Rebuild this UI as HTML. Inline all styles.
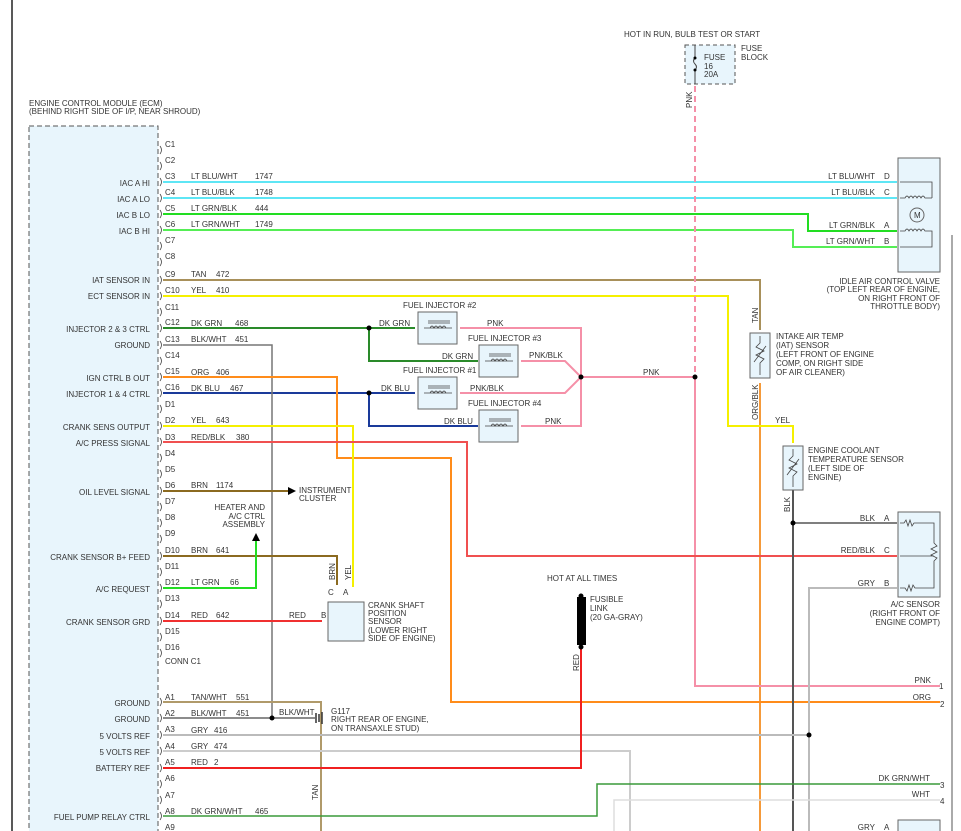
<!DOCTYPE html>
<html><head><meta charset="utf-8"><style>
body{margin:0;background:#fff}
svg{display:block}
text{font-family:"Liberation Sans",sans-serif;font-size:8px;fill:#333}
</style></head><body>
<svg width="961" height="831" viewBox="0 0 961 831" xmlns="http://www.w3.org/2000/svg">
<line x1="12" y1="0" x2="12" y2="831" stroke="#222" stroke-width="1.5"/>
<line x1="952" y1="235" x2="952" y2="831" stroke="#555" stroke-width="1"/>
<text x="29" y="106">ENGINE CONTROL MODULE (ECM)</text>
<text x="29" y="114">(BEHIND RIGHT SIDE OF I/P, NEAR SHROUD)</text>
<rect x="29" y="126" width="129" height="710" fill="#e8f5fc" stroke="#555" stroke-dasharray="5,3"/>
<g fill="none" stroke-width="2">
<!-- IAC -->
<path d="M163 182H897M163 198H897" stroke="#5ee6f5"/>
<path d="M163 214H808V231H897" stroke="#22dd22"/>
<path d="M163 230H793V247H897" stroke="#55ee55"/>
<path d="M163 280H760V330" stroke="#a8905a"/>
<path d="M760 383V831" stroke="#f59a3a"/>
<path d="M163 296H728V426H793V443" stroke="#f5f000"/>
<path d="M163 328H415M369 328V361H478" stroke="#2a8a2a"/>
<path d="M163 393H415M369 393V426H478" stroke="#1a3a9a"/>
<path d="M460 328H581V426H521M521 361H565L581 377M460 393H565L581 377M581 377H695" stroke="#f590a8"/>
<path d="M695 86V377" stroke="#f590a8" stroke-dasharray="6,4"/>
<path d="M695 377V686H940" stroke="#f590a8"/>
<path d="M163 345H272V718" stroke="#777" stroke-width="1.5"/>
<path d="M163 377H337V458H451V702H940" stroke="#ff8c1a"/>
<path d="M163 426H353V587" stroke="#f5f000"/>
<path d="M163 442H467V556H897" stroke="#f05050"/>
<path d="M163 491H288" stroke="#8b6a20"/>
<path d="M163 556H337V585" stroke="#8b6a20"/>
<path d="M163 588H256V540" stroke="#22dd22"/>
<path d="M163 621H322" stroke="#f03030"/>
<path d="M793 490V831" stroke="#555"/>
<path d="M793 523H897" stroke="#555" stroke-width="1.5"/>
<path d="M897 588H809V831" stroke="#bbb"/>
<path d="M163 702H321V831" stroke="#b09a6a"/>
<path d="M163 718H315" stroke="#666" stroke-width="1.5"/>
<path d="M163 735H809" stroke="#bbb"/>
<path d="M163 751H630V831" stroke="#ccc"/>
<path d="M163 768H581V648" stroke="#f02020"/>
<path d="M163 816H597V784H940" stroke="#3a9a3a" stroke-width="1.5"/>
<path d="M614 831V800H940" stroke="#ddd" stroke-width="1.5"/>
</g>
<!-- pin labels -->
<g>
<text x="165" y="147">C1</text><text x="165" y="163">C2</text><text x="165" y="179">C3</text><text x="165" y="195">C4</text><text x="165" y="211">C5</text><text x="165" y="227">C6</text><text x="165" y="243">C7</text><text x="165" y="259">C8</text><text x="165" y="277">C9</text><text x="165" y="293">C10</text><text x="165" y="310">C11</text><text x="165" y="325">C12</text><text x="165" y="342">C13</text><text x="165" y="358">C14</text><text x="165" y="374">C15</text><text x="165" y="390">C16</text><text x="165" y="407">D1</text><text x="165" y="423">D2</text><text x="165" y="440">D3</text><text x="165" y="456">D4</text><text x="165" y="472">D5</text><text x="165" y="488">D6</text><text x="165" y="504">D7</text><text x="165" y="520">D8</text><text x="165" y="536">D9</text><text x="165" y="553">D10</text><text x="165" y="569">D11</text><text x="165" y="585">D12</text><text x="165" y="601">D13</text><text x="165" y="618">D14</text><text x="165" y="634">D15</text><text x="165" y="650">D16</text><text x="165" y="664">CONN C1</text>
<text x="165" y="700">A1</text><text x="165" y="716">A2</text><text x="165" y="732">A3</text><text x="165" y="749">A4</text><text x="165" y="765">A5</text><text x="165" y="781">A6</text><text x="165" y="798">A7</text><text x="165" y="814">A8</text><text x="165" y="830">A9</text>
</g>
<g font-size="10" fill="none" stroke="#444" stroke-width="0.8">
<path d="M160 146q3 4 0 8M160 162q3 4 0 8M160 178q3 4 0 8M160 194q3 4 0 8M160 210q3 4 0 8M160 226q3 4 0 8M160 242q3 4 0 8M160 258q3 4 0 8M160 276q3 4 0 8M160 292q3 4 0 8M160 308q3 4 0 8M160 324q3 4 0 8M160 341q3 4 0 8M160 357q3 4 0 8M160 373q3 4 0 8M160 389q3 4 0 8M160 405q3 4 0 8M160 422q3 4 0 8M160 438q3 4 0 8M160 454q3 4 0 8M160 470q3 4 0 8M160 487q3 4 0 8M160 503q3 4 0 8M160 519q3 4 0 8M160 535q3 4 0 8M160 552q3 4 0 8M160 568q3 4 0 8M160 584q3 4 0 8M160 600q3 4 0 8M160 617q3 4 0 8M160 633q3 4 0 8M160 649q3 4 0 8M160 698q3 4 0 8M160 714q3 4 0 8M160 731q3 4 0 8M160 747q3 4 0 8M160 764q3 4 0 8M160 780q3 4 0 8M160 796q3 4 0 8M160 812q3 4 0 8"/>
</g>
<g text-anchor="end">
<text x="150" y="186">IAC A HI</text><text x="150" y="202">IAC A LO</text><text x="150" y="218">IAC B LO</text><text x="150" y="234">IAC B HI</text>
<text x="150" y="283">IAT SENSOR IN</text><text x="150" y="299">ECT SENSOR IN</text><text x="150" y="332">INJECTOR 2 &amp; 3 CTRL</text><text x="150" y="348">GROUND</text><text x="150" y="381">IGN CTRL B OUT</text><text x="150" y="397">INJECTOR 1 &amp; 4 CTRL</text><text x="150" y="430">CRANK SENS OUTPUT</text><text x="150" y="446">A/C PRESS SIGNAL</text><text x="150" y="495">OIL LEVEL SIGNAL</text><text x="150" y="560">CRANK SENSOR B+ FEED</text><text x="150" y="592">A/C REQUEST</text><text x="150" y="625">CRANK SENSOR GRD</text>
<text x="150" y="706">GROUND</text><text x="150" y="722">GROUND</text><text x="150" y="739">5 VOLTS REF</text><text x="150" y="755">5 VOLTS REF</text><text x="150" y="771">BATTERY REF</text><text x="150" y="820">FUEL PUMP RELAY CTRL</text>
</g>
<!-- wire labels -->
<g>
<text x="191" y="179">LT BLU/WHT</text><text x="255" y="179">1747</text>
<text x="191" y="195">LT BLU/BLK</text><text x="255" y="195">1748</text>
<text x="191" y="211">LT GRN/BLK</text><text x="255" y="211">444</text>
<text x="191" y="227">LT GRN/WHT</text><text x="255" y="227">1749</text>
<text x="191" y="277">TAN</text><text x="216" y="277">472</text>
<text x="191" y="293">YEL</text><text x="216" y="293">410</text>
<text x="191" y="326">DK GRN</text><text x="235" y="326">468</text>
<text x="191" y="342">BLK/WHT</text><text x="235" y="342">451</text>
<text x="191" y="375">ORG</text><text x="216" y="375">406</text>
<text x="191" y="391">DK BLU</text><text x="230" y="391">467</text>
<text x="191" y="423">YEL</text><text x="216" y="423">643</text>
<text x="191" y="440">RED/BLK</text><text x="236" y="440">380</text>
<text x="191" y="488">BRN</text><text x="216" y="488">1174</text>
<text x="191" y="553">BRN</text><text x="216" y="553">641</text>
<text x="191" y="585">LT GRN</text><text x="230" y="585">66</text>
<text x="191" y="618">RED</text><text x="216" y="618">642</text>
<text x="191" y="700">TAN/WHT</text><text x="236" y="700">551</text>
<text x="191" y="716">BLK/WHT</text><text x="236" y="716">451</text>
<text x="191" y="733">GRY</text><text x="214" y="733">416</text>
<text x="191" y="749">GRY</text><text x="214" y="749">474</text>
<text x="191" y="765">RED</text><text x="214" y="765">2</text>
<text x="191" y="814">DK GRN/WHT</text><text x="255" y="814">465</text>
</g>
<!-- dots -->
<g fill="#000">
<circle cx="369" cy="328" r="2.5"/><circle cx="369" cy="393" r="2.5"/><circle cx="581" cy="377" r="2.5"/><circle cx="695" cy="377" r="2.5"/><circle cx="272" cy="718" r="2.5"/><circle cx="793" cy="523" r="2.5"/><circle cx="809" cy="735" r="2.5"/><circle cx="581" cy="596" r="2.5"/><circle cx="581" cy="647" r="2.5"/>
</g>
<!-- injectors -->
<g fill="#e8f5fc" stroke="#666">
<rect x="418" y="312" width="39" height="32"/><rect x="479" y="345" width="39" height="32"/><rect x="418" y="377" width="39" height="32"/><rect x="479" y="410" width="39" height="32"/>
</g>
<g fill="none" stroke="#444" stroke-width="0.8">
<path d="M424 328H452M428 321H450M428 323H450M430 328q2-4 4 0q2-4 4 0q2-4 4 0q2-4 4 0"/>
<path d="M485 361H513M489 354H511M489 356H511M491 361q2-4 4 0q2-4 4 0q2-4 4 0q2-4 4 0"/>
<path d="M424 393H452M428 386H450M428 388H450M430 393q2-4 4 0q2-4 4 0q2-4 4 0q2-4 4 0"/>
<path d="M485 426H513M489 419H511M489 421H511M491 426q2-4 4 0q2-4 4 0q2-4 4 0q2-4 4 0"/>
</g>
<text x="403" y="308">FUEL INJECTOR #2</text><text x="468" y="341">FUEL INJECTOR #3</text><text x="403" y="373">FUEL INJECTOR #1</text><text x="468" y="406">FUEL INJECTOR #4</text>
<text x="379" y="326">DK GRN</text><text x="442" y="359">DK GRN</text><text x="381" y="391">DK BLU</text><text x="444" y="424">DK BLU</text>
<text x="487" y="326">PNK</text><text x="529" y="358">PNK/BLK</text><text x="470" y="391">PNK/BLK</text><text x="545" y="424">PNK</text><text x="643" y="375">PNK</text>
<!-- fuse block -->
<text x="624" y="37">HOT IN RUN, BULB TEST OR START</text>
<rect x="685" y="45" width="50" height="39" fill="#e8f5fc" stroke="#555" stroke-dasharray="4,3"/>
<path d="M695 45V58M695 70V84M695 58q-3 3 0 6q3 3 0 6" fill="none" stroke="#444"/>
<circle cx="695" cy="58" r="1.5"/><circle cx="695" cy="70" r="1.5"/>
<text x="704" y="60">FUSE</text><text x="704" y="69">16</text><text x="704" y="77">20A</text>
<text x="741" y="51">FUSE</text><text x="741" y="60">BLOCK</text>
<text transform="translate(692,108) rotate(-90)">PNK</text>
<!-- IAC valve -->
<rect x="898" y="158" width="42" height="114" fill="#e8f5fc" stroke="#666"/>
<circle cx="917" cy="215" r="7" fill="none" stroke="#666"/><text x="914" y="218" font-size="7">M</text>
<path d="M900 182H932V198M900 198H905q2-4 4 0q2-4 4 0q2-4 4 0q2-4 4 0q2-4 4 0H932M900 231H905q2-4 4 0q2-4 4 0q2-4 4 0q2-4 4 0q2-4 4 0H932V247H900" fill="none" stroke="#444" stroke-width="0.8"/>
<g text-anchor="end">
<text x="875" y="179">LT BLU/WHT</text><text x="875" y="195">LT BLU/BLK</text><text x="875" y="228">LT GRN/BLK</text><text x="875" y="244">LT GRN/WHT</text>
<text x="940" y="284">IDLE AIR CONTROL VALVE</text><text x="940" y="292">(TOP LEFT REAR OF ENGINE,</text><text x="940" y="301">ON RIGHT FRONT OF</text><text x="940" y="309">THROTTLE BODY)</text>
<text x="875" y="521">BLK</text><text x="875" y="553">RED/BLK</text><text x="875" y="586">GRY</text>
<text x="940" y="607">A/C SENSOR</text><text x="940" y="616">(RIGHT FRONT OF</text><text x="940" y="625">ENGINE COMPT)</text>
<text x="931" y="683">PNK</text><text x="931" y="700">ORG</text><text x="930" y="781">DK GRN/WHT</text><text x="930" y="797">WHT</text><text x="875" y="830">GRY</text>
</g>
<text x="884" y="179">D</text><text x="884" y="195">C</text><text x="884" y="228">A</text><text x="884" y="244">B</text>
<text x="884" y="521">A</text><text x="884" y="553">C</text><text x="884" y="586">B</text><text x="884" y="830">A</text>
<text x="939" y="689">1</text><text x="940" y="707">2</text><text x="940" y="788">3</text><text x="940" y="804">4</text>
<!-- IAT -->
<rect x="750" y="333" width="20" height="45" fill="#e8f5fc" stroke="#666"/>
<path d="M760 336V343l-4 4 8 4-8 4 8 4-4 4V375M754 362L766 346" fill="none" stroke="#444" stroke-width="0.8"/>
<text transform="translate(758,323) rotate(-90)">TAN</text>
<text transform="translate(758,420) rotate(-90)">ORG/BLK</text>
<text x="776" y="339">INTAKE AIR TEMP</text><text x="776" y="348">(IAT) SENSOR</text><text x="776" y="357">(LEFT FRONT OF ENGINE</text><text x="776" y="366">COMP, ON RIGHT SIDE</text><text x="776" y="375">OF AIR CLEANER)</text>
<text x="775" y="423">YEL</text>
<!-- ECT -->
<rect x="783" y="446" width="20" height="44" fill="#e8f5fc" stroke="#666"/>
<path d="M793 449V456l-4 4 8 4-8 4 8 4-4 4V487M787 475L799 459" fill="none" stroke="#444" stroke-width="0.8"/>
<text x="808" y="453">ENGINE COOLANT</text><text x="808" y="462">TEMPERATURE SENSOR</text><text x="808" y="471">(LEFT SIDE OF</text><text x="808" y="480">ENGINE)</text>
<text transform="translate(790,512) rotate(-90)">BLK</text>
<!-- A/C sensor -->
<rect x="898" y="512" width="42" height="85" fill="#e8f5fc" stroke="#666"/>
<path d="M900 523H904l2-3 2 6 2-6 2 6 2-3H934V543l3 3-6 3 6 3-6 3 6 3-3 3V588H915l-2-3-2 6-2-6-2 6-2-3H900M900 556H934" fill="none" stroke="#444" stroke-width="0.8"/>
<rect x="898" y="820" width="42" height="20" fill="#e8f5fc" stroke="#666"/>
<!-- misc -->
<path d="M288 487L296 491L288 495Z" fill="#000"/>
<text x="299" y="493">INSTRUMENT</text><text x="299" y="501">CLUSTER</text>
<path d="M252 541L256 533L260 541Z" fill="#000"/>
<g text-anchor="end"><text x="265" y="510">HEATER AND</text><text x="265" y="519">A/C CTRL</text><text x="265" y="527">ASSEMBLY</text></g>
<rect x="328" y="602" width="36" height="39" fill="#e8f5fc" stroke="#666"/>
<text x="328" y="595">C</text><text x="343" y="595">A</text><text x="321" y="618">B</text><text x="289" y="618">RED</text>
<text transform="translate(335,580) rotate(-90)">BRN</text><text transform="translate(351,580) rotate(-90)">YEL</text>
<text x="368" y="608">CRANK SHAFT</text><text x="368" y="616">POSITION</text><text x="368" y="624">SENSOR</text><text x="368" y="633">(LOWER RIGHT</text><text x="368" y="641">SIDE OF ENGINE)</text>
<text x="279" y="715">BLK/WHT</text>
<path d="M316 713V723M319 714V722M322 712V724" stroke="#333" stroke-width="1.5"/>
<text x="331" y="714">G117</text><text x="331" y="722">RIGHT REAR OF ENGINE,</text><text x="331" y="731">ON TRANSAXLE STUD)</text>
<text transform="translate(318,800) rotate(-90)">TAN</text>
<text x="547" y="581">HOT AT ALL TIMES</text>
<rect x="577" y="597" width="9" height="48" fill="#000"/>
<text x="590" y="602">FUSIBLE</text><text x="590" y="611">LINK</text><text x="590" y="620">(20 GA-GRAY)</text>
<text transform="translate(579,671) rotate(-90)">RED</text>
</svg>
</body></html>
